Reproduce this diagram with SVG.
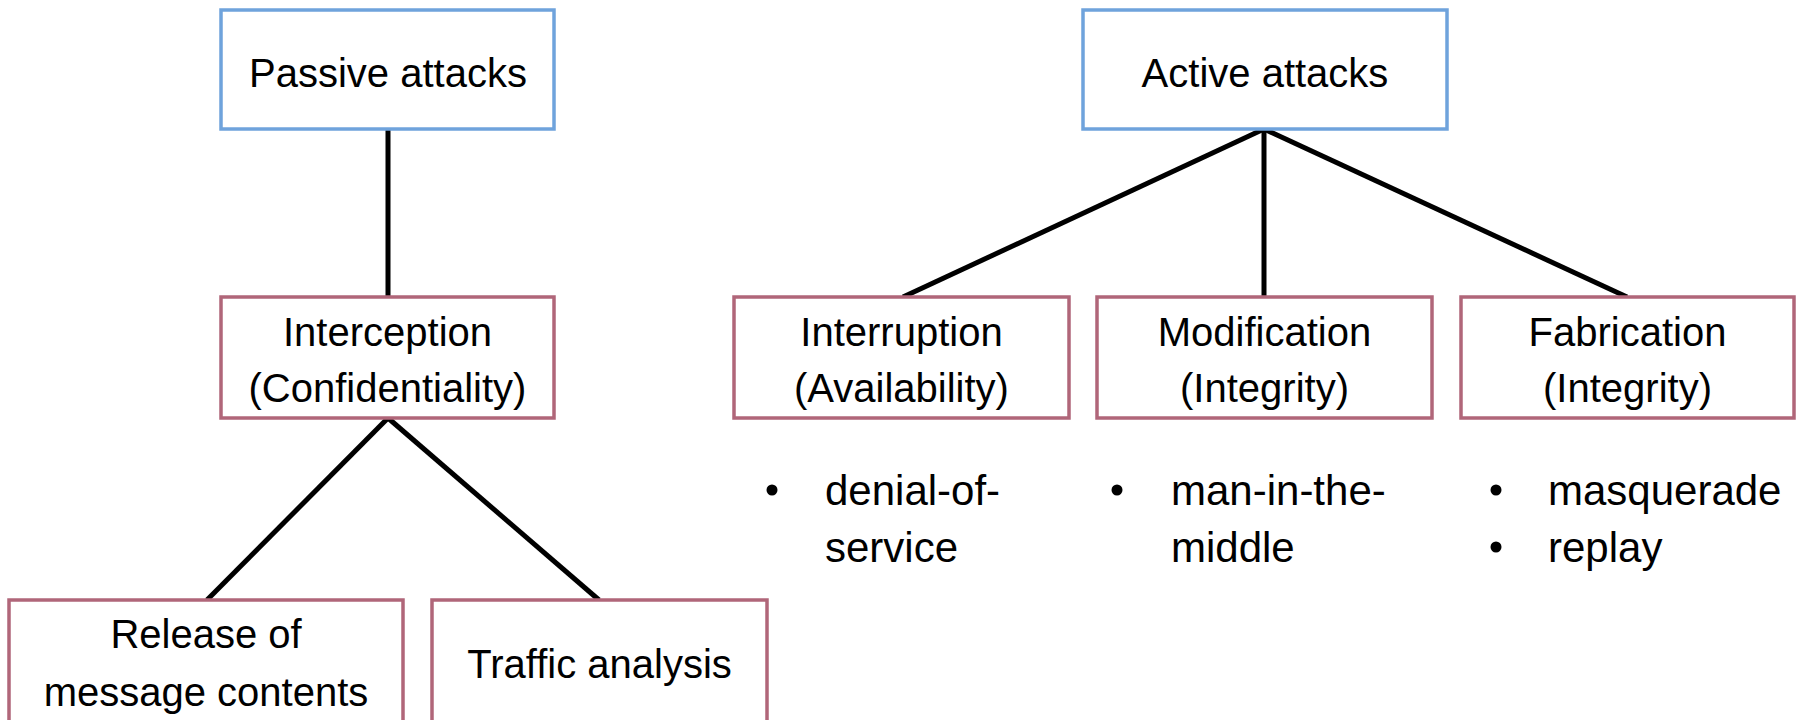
<svg xmlns="http://www.w3.org/2000/svg" width="1805" height="720" viewBox="0 0 1805 720">
<style>
.top{fill:#fff;stroke:#6FA3DC;stroke-width:3.5}
.sub{fill:#fff;stroke:#B06679;stroke-width:3.5}
text{font-family:"Liberation Sans",Arial,sans-serif;font-size:40px;fill:#000}
.c{text-anchor:middle}
.b{font-size:42px}
.con line{stroke:#000;stroke-width:5;stroke-linecap:butt}
.dot{fill:#000}
</style>
<g class="con" id="connectors">
<line x1="388" y1="129" x2="388" y2="297"/>
<line x1="388" y1="418" x2="207" y2="600"/>
<line x1="388" y1="418" x2="599" y2="600"/>
<line x1="1264" y1="129" x2="903" y2="297"/>
<line x1="1264" y1="129" x2="1264" y2="297"/>
<line x1="1264" y1="129" x2="1627" y2="297"/>
</g>
<g id="passive">
<rect class="top" x="221" y="10" width="333" height="119"/>
<text class="c" x="388" y="87">Passive attacks</text>
</g>
<g id="active">
<rect class="top" x="1083" y="10" width="364" height="119"/>
<text class="c" x="1265" y="87">Active attacks</text>
</g>
<g id="interception">
<rect class="sub" x="221" y="297" width="333" height="121"/>
<text class="c" x="387.5" y="346">Interception</text>
<text class="c" x="387.5" y="402">(Confidentiality)</text>
</g>
<g id="interruption">
<rect class="sub" x="734" y="297" width="335" height="121"/>
<text class="c" x="901.5" y="346">Interruption</text>
<text class="c" x="901.5" y="402">(Availability)</text>
</g>
<g id="modification">
<rect class="sub" x="1097" y="297" width="335" height="121"/>
<text class="c" x="1264.5" y="346">Modification</text>
<text class="c" x="1264.5" y="402">(Integrity)</text>
</g>
<g id="fabrication">
<rect class="sub" x="1461" y="297" width="333" height="121"/>
<text class="c" x="1627.5" y="346">Fabrication</text>
<text class="c" x="1627.5" y="402">(Integrity)</text>
</g>
<g id="release">
<rect class="sub" x="9" y="600" width="394" height="130"/>
<text class="c" x="206" y="648">Release of</text>
<text class="c" x="206" y="706">message contents</text>
</g>
<g id="traffic">
<rect class="sub" x="432" y="600" width="335" height="130"/>
<text class="c" x="599.5" y="678">Traffic analysis</text>
</g>
<g id="interruption-examples">
<circle class="dot" cx="772" cy="490" r="5.5"/>
<text class="b" x="825" y="505">denial-of-</text>
<text class="b" x="825" y="562">service</text>
</g>
<g id="modification-examples">
<circle class="dot" cx="1117" cy="490" r="5.5"/>
<text class="b" x="1171" y="505">man-in-the-</text>
<text class="b" x="1171" y="562">middle</text>
</g>
<g id="fabrication-examples">
<circle class="dot" cx="1496" cy="490" r="5.5"/>
<text class="b" x="1548" y="505">masquerade</text>
<circle class="dot" cx="1496" cy="547" r="5.5"/>
<text class="b" x="1548" y="562">replay</text>
</g>
</svg>
